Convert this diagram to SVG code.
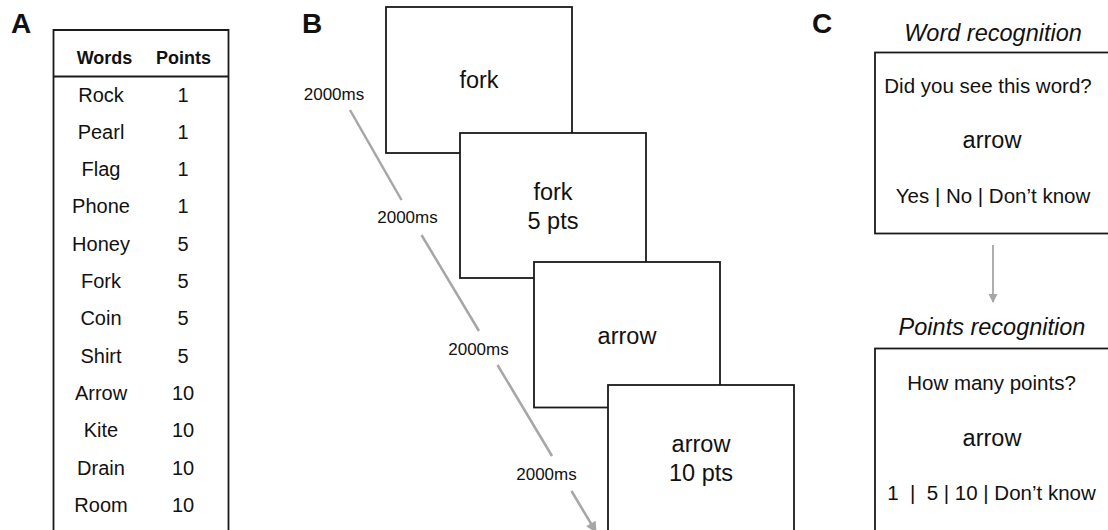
<svg xmlns="http://www.w3.org/2000/svg" width="1108" height="530" viewBox="0 0 1108 530">
<style>
text{font-family:"Liberation Sans",Arial,sans-serif;fill:#111;}
.lbl{font-size:28px;font-weight:bold;}
.hd{font-size:18px;font-weight:bold;text-anchor:middle;}
.row{font-size:20px;text-anchor:middle;}
.big{font-size:23.5px;text-anchor:middle;}
.ms{font-size:17px;text-anchor:middle;}
.ttl{font-size:23.5px;font-style:italic;text-anchor:middle;}
.ct{font-size:20.5px;text-anchor:middle;}
.box{fill:#fff;stroke:#1a1a1a;stroke-width:1.8;}
.con{stroke:#a6a6a6;stroke-width:2.5;fill:none;}
.con2{stroke:#a6a6a6;stroke-width:1.8;fill:none;}
</style>
<defs>
<marker id="ah" viewBox="0 0 10 10" refX="9" refY="5" markerWidth="13" markerHeight="11" markerUnits="userSpaceOnUse" orient="auto">
<path d="M0,0 L10,5 L0,10 z" fill="#a6a6a6"/>
</marker>
<marker id="ah2" viewBox="0 0 10 10" refX="9" refY="5" markerWidth="10" markerHeight="9" markerUnits="userSpaceOnUse" orient="auto">
<path d="M0,0 L10,5 L0,10 z" fill="#a6a6a6"/>
</marker>
</defs>
<rect width="1108" height="530" fill="#fff"/>
<g id="labels">
<text class="lbl" x="11" y="33">A</text>
<text class="lbl" x="302" y="33">B</text>
<text class="lbl" x="812" y="33">C</text>
</g>
<g id="table">
<path d="M53.5,540 V30 H228.5 V540" class="box" fill="none"/>
<line x1="53.5" y1="76.5" x2="228.5" y2="76.5" stroke="#1a1a1a" stroke-width="1.8"/>
<text class="hd" x="104.5" y="63.5">Words</text>
<text class="hd" x="183.5" y="63.5">Points</text>
<text class="row" x="101" y="101.5">Rock</text><text class="row" x="183" y="101.5">1</text>
<text class="row" x="101" y="138.8">Pearl</text><text class="row" x="183" y="138.8">1</text>
<text class="row" x="101" y="176.1">Flag</text><text class="row" x="183" y="176.1">1</text>
<text class="row" x="101" y="213.4">Phone</text><text class="row" x="183" y="213.4">1</text>
<text class="row" x="101" y="250.7">Honey</text><text class="row" x="183" y="250.7">5</text>
<text class="row" x="101" y="288">Fork</text><text class="row" x="183" y="288">5</text>
<text class="row" x="101" y="325.3">Coin</text><text class="row" x="183" y="325.3">5</text>
<text class="row" x="101" y="362.6">Shirt</text><text class="row" x="183" y="362.6">5</text>
<text class="row" x="101" y="399.9">Arrow</text><text class="row" x="183" y="399.9">10</text>
<text class="row" x="101" y="437.2">Kite</text><text class="row" x="183" y="437.2">10</text>
<text class="row" x="101" y="474.5">Drain</text><text class="row" x="183" y="474.5">10</text>
<text class="row" x="101" y="511.8">Room</text><text class="row" x="183" y="511.8">10</text>
</g>
<g id="connectors">
<line class="con" x1="350" y1="110" x2="401.5" y2="200"/>
<line class="con" x1="421.5" y1="235" x2="479" y2="331"/>
<line class="con" x1="497.5" y1="365" x2="552" y2="456"/>
<line class="con" x1="571.5" y1="491" x2="596" y2="532" marker-end="url(#ah)"/>
<line class="con2" x1="993" y1="245" x2="993" y2="302" marker-end="url(#ah2)"/>
</g>
<g id="timing-labels">
<text class="ms" x="334" y="100">2000ms</text>
<text class="ms" x="407.5" y="223">2000ms</text>
<text class="ms" x="478.5" y="355">2000ms</text>
<text class="ms" x="546.5" y="480">2000ms</text>
</g>
<g id="screen1">
<rect class="box" x="386" y="7" width="186" height="146"/>
<text class="big" x="479" y="88">fork</text>
</g>
<g id="screen2">
<rect class="box" x="460" y="133" width="186" height="145"/>
<text class="big" x="553" y="200">fork</text>
<text class="big" x="553" y="229">5 pts</text>
</g>
<g id="screen3">
<rect class="box" x="534" y="262" width="186" height="145.5"/>
<text class="big" x="627" y="344">arrow</text>
</g>
<g id="screen4">
<rect class="box" x="608" y="385" width="186" height="160"/>
<text class="big" x="701" y="452">arrow</text>
<text class="big" x="701" y="481">10 pts</text>
</g>
<g id="word-recognition">
<text class="ttl" x="993" y="40.5">Word recognition</text>
<rect class="box" x="875" y="52.5" width="245" height="181"/>
<text class="ct" x="988" y="93">Did you see this word?</text>
<text class="big" x="992" y="148">arrow</text>
<text class="ct" x="993" y="203">Yes | No | Don’t know</text>
</g>
<g id="points-recognition">
<text class="ttl" x="992" y="335">Points recognition</text>
<rect class="box" x="875" y="348.5" width="245" height="200"/>
<text class="ct" x="991.5" y="390">How many points?</text>
<text class="big" x="992" y="446">arrow</text>
<text class="ct" x="991.5" y="500" xml:space="preserve">1  |  5 | 10 | Don’t know</text>
</g>
</svg>
